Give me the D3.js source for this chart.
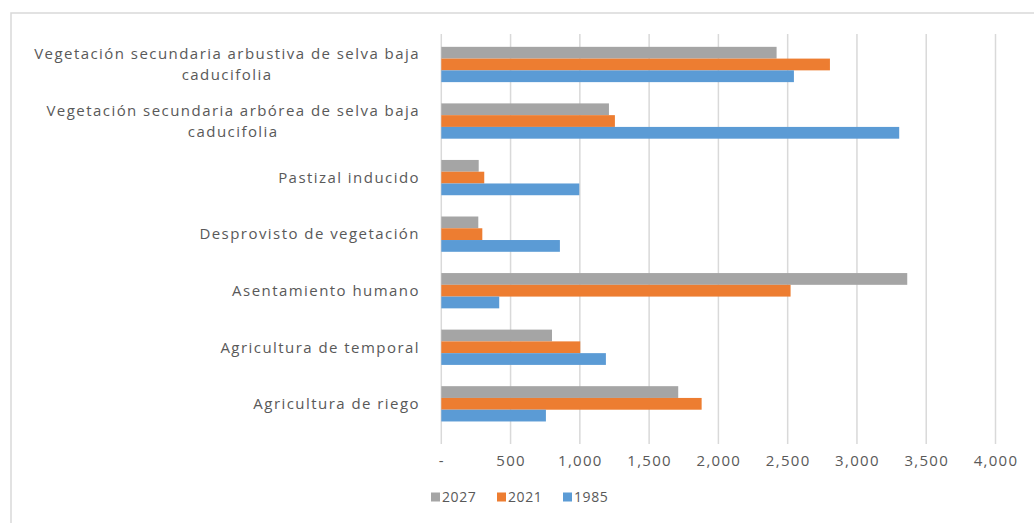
<!DOCTYPE html>
<html><head><meta charset="utf-8">
<script src="https://cdn.jsdelivr.net/npm/d3@7"></script>
<style>html,body{margin:0;padding:0;background:#fff;}svg{display:block;}</style>
</head><body>
<svg id="c" width="1034" height="523"></svg>
<script>
const categories = ["Vegetación secundaria arbustiva de selva baja caducifolia","Vegetación secundaria arbórea de selva baja caducifolia","Pastizal inducido","Desprovisto de vegetación","Asentamiento humano","Agricultura de temporal","Agricultura de riego"];
const seriesNames = ["2027","2021","1985"];
const values2027 = [2420,1210,270,267,3363,799,1710];
const values2021 = [2805,1253,310,296,2521,1003,1879];
const values1985 = [2545,3305,996,856,418,1188,755];
const tickValues = [0,500,1000,1500,2000,2500,3000,3500,4000];
const colors = ["#A5A5A5","#ED7D31","#5B9BD5"];
const seriesValues = [values2027, values2021, values1985];

const svg = d3.select("#c");
const font = "'Open Sans', sans-serif";
const textColor = "#595959";
const ls = "1.3px";

// frame
svg.append("rect").attr("x",11).attr("y",13).attr("width",1100).attr("height",600)
  .attr("fill","none").attr("stroke","#d9d9d9").attr("stroke-width",1.5);

const x = d3.scaleLinear().domain([0,4000]).range([441.3,995.5]);
const y = d3.scaleBand().domain(categories).range([36.2,432.1]).paddingInner(0.376).paddingOuter(0.188);
const ySub = d3.scaleBand().domain(seriesNames).range([0,y.bandwidth()]);

// gridlines
svg.append("g").selectAll("line").data(tickValues).join("line")
  .attr("x1",d=>x(d)).attr("x2",d=>x(d)).attr("y1",34).attr("y2",444)
  .attr("stroke","#d9d9d9").attr("stroke-width",1.5);

// bars
const groups = svg.append("g").selectAll("g").data(categories).join("g")
  .attr("transform",d=>`translate(0,${y(d)})`);
groups.selectAll("rect").data((d,i)=>seriesNames.map((s,j)=>({s,v:seriesValues[j][i],c:colors[j]}))).join("rect")
  .attr("x",x(0)).attr("y",d=>ySub(d.s)).attr("height",ySub.bandwidth())
  .attr("width",d=>x(d.v)-x(0)).attr("fill",d=>d.c);

// x axis tick labels
const fmt = d3.format(",");
const xAxis = d3.axisBottom(x).tickValues(tickValues).tickSize(0).tickFormat(d=>d===0?"-":fmt(d));
const gx = svg.append("g").attr("transform","translate(0,449)").call(xAxis);
gx.select(".domain").remove();
gx.selectAll("text").attr("fill",textColor).style("font-family",font).style("font-size","15px")
  .style("letter-spacing",ls).attr("dy","0.9em");

// category labels
const labelRight = 420, maxW = 410, lineH = 21, fs = 15;
const lg = svg.append("g").style("font-family",font).style("font-size",fs+"px").style("letter-spacing","1.45px").attr("fill",textColor);
const measure = lg.append("text");
function wrap(str){
  const words = str.split(" "); const lines=[]; let cur="";
  for(const w of words){
    const t = cur? cur+" "+w : w;
    measure.text(t);
    if(measure.node().getComputedTextLength()>maxW && cur){lines.push(cur);cur=w;} else cur=t;
  }
  lines.push(cur); return lines;
}
categories.forEach(c=>{
  const lines = wrap(c);
  const cy = y(c)+y.bandwidth()/2;
  if(lines.length===1){
    lg.append("text").attr("x",labelRight).attr("y",cy).attr("dy","0.35em").attr("text-anchor","end").text(lines[0]);
  } else {
    let w=0; lines.forEach(l=>{measure.text(l);w=Math.max(w,measure.node().getComputedTextLength());});
    const cx = labelRight - w/2;
    lines.forEach((l,k)=>{
      lg.append("text").attr("x",cx).attr("y",cy+(k-(lines.length-1)/2)*lineH).attr("dy","0.35em").attr("text-anchor","middle").text(l);
    });
  }
});
measure.remove();

// legend
const legX = [431,497,563];
const leg = svg.append("g").selectAll("g").data(seriesNames).join("g")
  .attr("transform",(d,i)=>`translate(${legX[i]},497)`);
leg.append("rect").attr("x",0).attr("y",-4.5).attr("width",9).attr("height",9).attr("fill",(d,i)=>colors[i]);
leg.append("text").attr("x",11).attr("y",0).attr("dy","0.35em").text(d=>d)
  .attr("fill",textColor).style("font-family",font).style("font-size","14px").style("letter-spacing","0.6px");
</script>
</body></html>
